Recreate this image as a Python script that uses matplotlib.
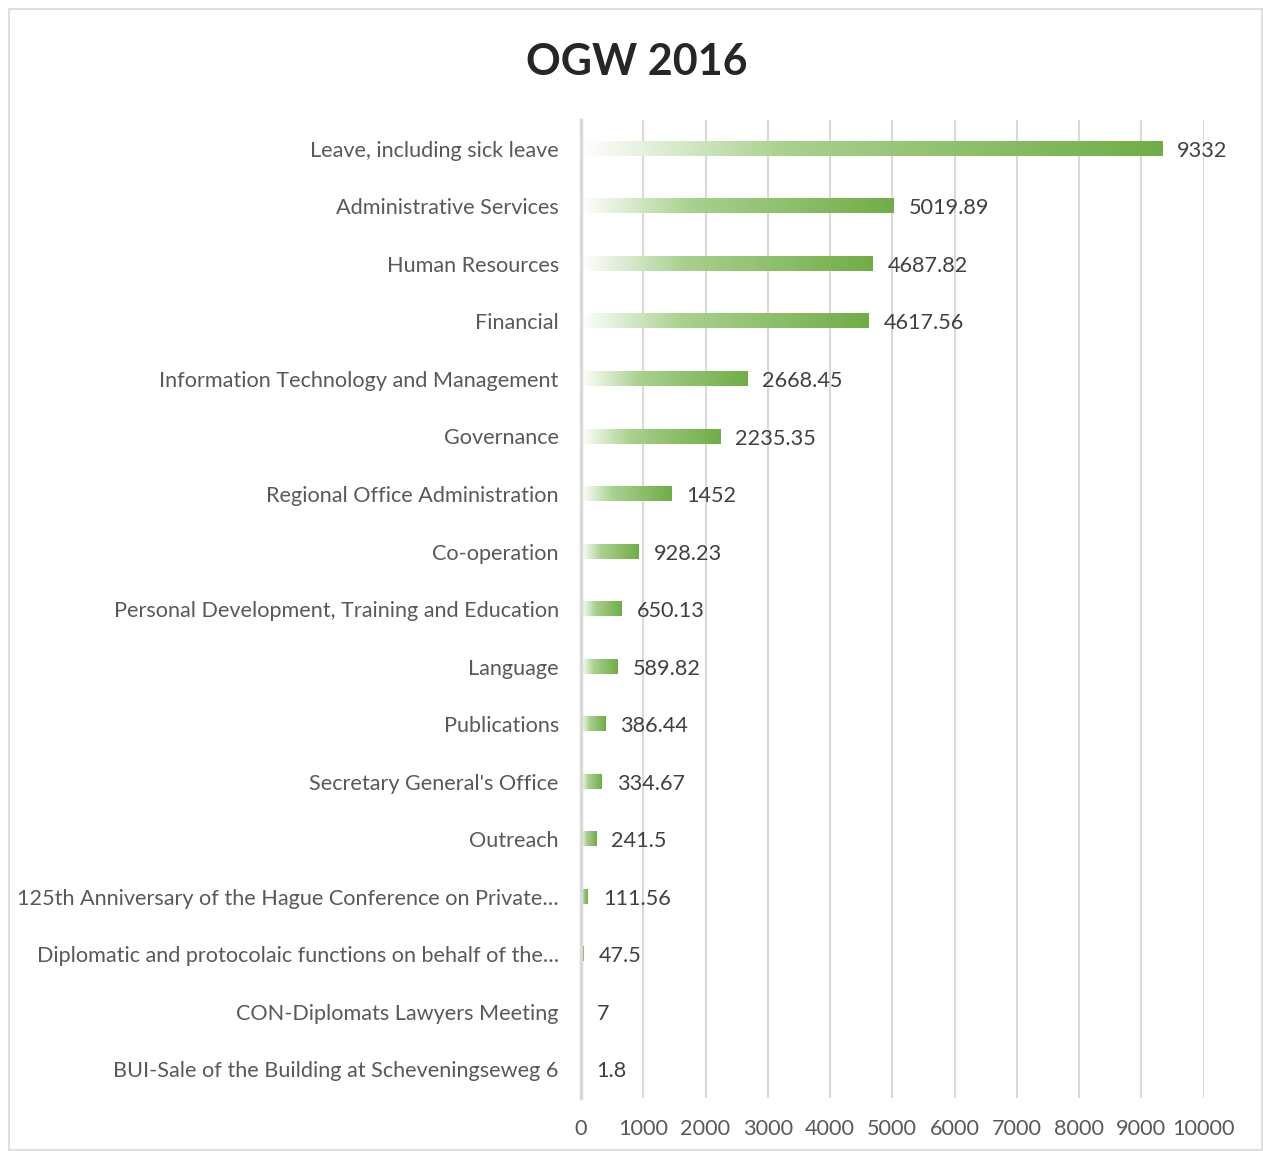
import numpy as np
import matplotlib
matplotlib.use('Agg')
from matplotlib import pyplot as plt
from matplotlib.colors import LinearSegmentedColormap
from matplotlib.patches import Rectangle

categories = [
    'Leave, including sick leave',
    'Administrative Services',
    'Human Resources',
    'Financial',
    'Information Technology and Management',
    'Governance',
    'Regional Office Administration',
    'Co-operation',
    'Personal Development, Training and Education',
    'Language',
    'Publications',
    "Secretary General's Office",
    'Outreach',
    '125th Anniversary of the Hague Conference on Private\u2026',
    'Diplomatic and protocolaic functions on behalf of the\u2026',
    'CON-Diplomats Lawyers Meeting',
    'BUI-Sale of the Building at Scheveningseweg 6',
]
values = [9332, 5019.89, 4687.82, 4617.56, 2668.45, 2235.35, 1452, 928.23,
          650.13, 589.82, 386.44, 334.67, 241.5, 111.56, 47.5, 7, 1.8]
value_labels = ['9332', '5019.89', '4687.82', '4617.56', '2668.45', '2235.35',
                '1452', '928.23', '650.13', '589.82', '386.44', '334.67',
                '241.5', '111.56', '47.5', '7', '1.8']
xticks = list(range(0, 10001, 1000))

plt.rcParams['font.family'] = ['Lato', 'DejaVu Sans']
fs = 15.6

fig = plt.figure(figsize=(12.63, 11.51), dpi=100)
ax = fig.add_axes([0.460, 0.046, 0.493, 0.8497])

cmap = LinearSegmentedColormap.from_list(
    'grad', [(0, '#ffffff'), (0.35, '#a9d18e'), (1, '#70ad47')])
grad = np.linspace(0, 1, 256).reshape(1, -1)

n = len(categories)
ys = np.arange(n)[::-1]
h = 0.245
for y, v, lab in zip(ys, values, value_labels):
    ax.imshow(grad, cmap=cmap, aspect='auto', interpolation='bilinear',
              extent=(0, v, y - h / 2, y + h / 2), zorder=3)
    ax.annotate(lab, (v, y), xytext=(11, -1.5), textcoords='offset points',
                va='center', ha='left', fontsize=fs, color='#404040', zorder=4)

ax.set_xlim(0, 10000)
ax.set_ylim(-0.5, n - 0.5)
ax.set_xticks(xticks)
ax.set_xticklabels([str(t) for t in xticks], fontsize=fs, color='#595959')
ax.set_yticks(ys)
ax.set_yticklabels(categories, fontsize=fs, color='#595959')
ax.tick_params(axis='both', length=0)
ax.tick_params(axis='x', pad=15)
ax.tick_params(axis='y', pad=16)
ax.grid(axis='x', color='#d9d9d9', linewidth=1.5, zorder=0)
ax.set_axisbelow(True)
for s in ['top', 'right', 'bottom']:
    ax.spines[s].set_visible(False)
ax.spines['left'].set_color('#d9d9d9')
ax.spines['left'].set_linewidth(2.5)
ax.spines['left'].set_zorder(5)

fig.text(0.504, 0.946, 'OGW 2016', ha='center', va='center',
         fontsize=31, fontweight='bold', color='#262626')

fig.patches.append(Rectangle((9 / 1263, 1 / 1151), 1253 / 1263, 1141 / 1151,
                             transform=fig.transFigure, fill=False,
                             edgecolor='#d9d9d9', linewidth=1.2))

fig.savefig('out.png', dpi=100)
